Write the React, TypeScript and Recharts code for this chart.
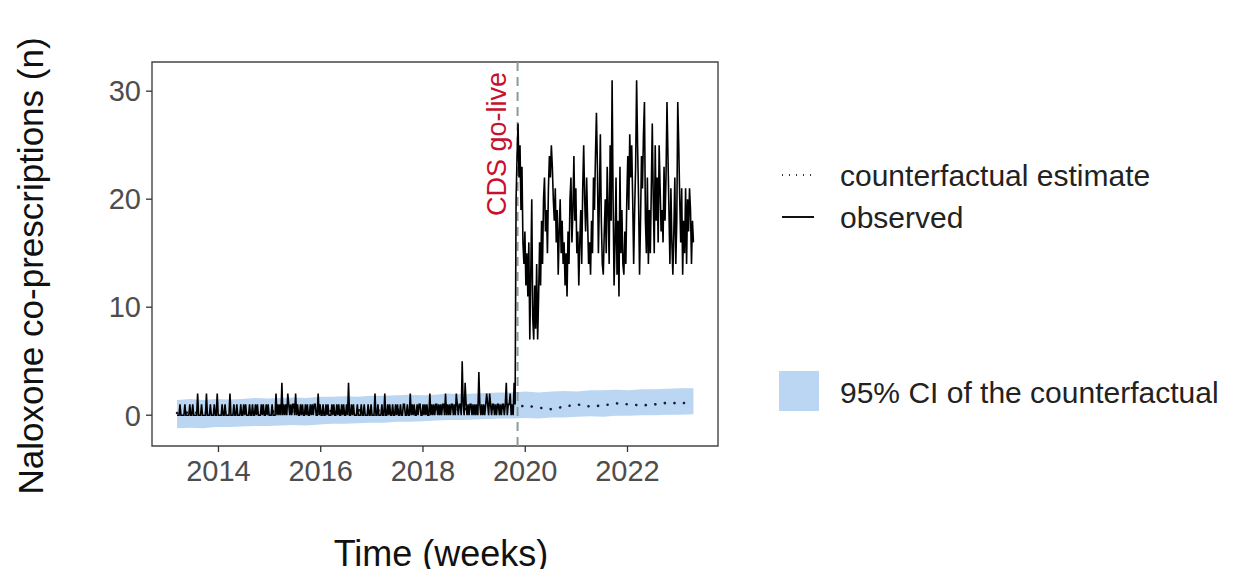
import {
  ComposedChart,
  Line,
  Area,
  XAxis,
  YAxis,
  ReferenceLine,
  ReferenceArea,
} from "recharts";

const FONT = "'Liberation Sans', Arial, Helvetica, sans-serif";

// weekly observed counts, first week ~ March 2013
const OBS_START = 2013.19;
const WEEKS_PER_YEAR = 52.18;

const pre2013 = [0,0,0,1,0,0,0,0,1,0,0,0,0,1,0,0,1,0,0,0,0,2,0,0,0,1,0,0,0,0,2,0,0,0,1,0,0,0,1,0,0,2,0,0,0,0,1,0,0,1,0,0];
const pre2014 = [0,0,2,0,0,0,1,0,0,1,0,0,0,1,0,0,1,0,1,0,0,0,1,0,0,1,0,0,1,0,1,0,0,0,1,0,1,0,0,1,0,1,0,0,0,1,0,0,0,2,0,1];
const pre2015 = [0,1,0,3,0,1,0,1,0,2,1,0,1,0,1,1,0,2,0,1,0,0,1,0,1,0,0,1,0,1,0,0,1,0,1,0,1,1,0,0,2,0,1,0,0,1,0,0,1,0,1,0];
const pre2016 = [0,0,1,0,1,0,0,1,0,1,0,0,1,0,1,0,0,1,0,3,0,0,1,0,1,0,0,0,1,0,0,0,1,0,0,1,0,0,0,1,0,0,1,0,0,0,2,0,0,1,0,0];
const pre2017 = [0,1,0,0,2,0,0,1,0,1,0,0,1,0,0,1,0,1,0,0,1,0,0,1,1,0,0,1,0,0,2,0,1,0,1,0,0,1,0,1,1,0,0,1,0,1,0,1,0,0,2,0];
const pre2018 = [1,0,1,0,1,1,0,1,0,1,0,1,1,0,2,0,1,0,1,0,1,1,0,1,0,2,1,0,1,1,0,5,1,0,3,1,0,1,0,1,1,0,1,0,1,0,1,0,4,1,0,1];
const pre2019 = [0,1,0,1,2,1,0,2,1,0,1,1,0,1,0,1,1,0,1,0,1,1,0,1,3,0,1,1,2,0,1,0,3,1];

const post = [
  20,24,27,22,25,19,23,16,14,17,
  12,15,11,16,7,13,20,9,7,12,
  8,14,7,11,16,12,18,14,20,22,
  17,19,15,21,24,22,25,23,20,18,
  21,16,19,13,17,20,15,18,14,16,
  12,15,11,17,14,20,22,16,19,24,
  18,21,15,17,12,16,19,14,21,25,
  20,17,22,18,14,16,13,18,15,22,
  19,24,28,23,15,20,26,18,14,13,
  17,20,15,23,19,14,25,18,31,20,
  12,16,22,13,18,11,23,15,19,14,
  13,17,14,20,24,19,26,22,25,20,
  14,19,23,31,25,20,13,18,24,21,
  26,29,18,15,22,14,19,15,21,27,
  20,15,25,18,22,16,25,21,17,19,
  16,23,18,22,29,24,19,14,21,16,
  13,17,22,14,18,29,25,20,16,21,
  13,18,15,21,14,20,17,21,19,14,18,16,
];

// quarterly counterfactual estimate and its 95% CI
const CF_START = 2013.19;
const CF_STEP = 0.2525;
const cfEstimate = [0.2,0.25,0.2,0.3,0.25,0.3,0.3,0.35,0.3,0.35,0.4,0.35,0.4,0.4,0.45,0.4,0.45,0.5,0.45,0.5,0.55,0.5,0.55,0.6,0.6,0.65,0.7,0.9,0.7,0.55,0.8,1.0,0.8,0.9,1.1,1.0,0.9,1.0,1.15,1.1,1.2];
const ciLow = [-1.2,-1.15,-1.2,-1.1,-1.1,-1.05,-1.0,-1.0,-0.95,-0.9,-0.95,-0.85,-0.8,-0.8,-0.75,-0.7,-0.7,-0.6,-0.6,-0.55,-0.5,-0.45,-0.45,-0.4,-0.35,-0.3,-0.3,-0.25,-0.3,-0.2,-0.2,-0.15,-0.1,-0.15,-0.05,-0.05,0.0,0.0,0.05,0.05,0.1];
const ciHigh = [1.4,1.5,1.4,1.5,1.45,1.5,1.6,1.55,1.6,1.65,1.6,1.7,1.7,1.75,1.7,1.8,1.8,1.85,1.9,1.85,1.9,2.0,1.95,2.0,2.05,2.1,2.1,2.2,2.1,2.2,2.25,2.2,2.3,2.3,2.35,2.3,2.4,2.4,2.45,2.5,2.5];

const GO_LIVE = 2019.85;
const xTicks = [2014, 2016, 2018, 2020, 2022];
const yTicks = [0, 10, 20, 30];
const X_DOMAIN = [2012.7, 2023.77];
const Y_DOMAIN = [-2.85, 32.7];

const observed = [...pre2013, ...pre2014, ...pre2015, ...pre2016, ...pre2017, ...pre2018, ...pre2019, ...post].map(
  (v, i) => ({ x: OBS_START + i / WEEKS_PER_YEAR, obs: v })
);
const counterfactual = cfEstimate.map((v, i) => ({
  x: CF_START + i * CF_STEP,
  cf: v,
  ci: [ciLow[i], ciHigh[i]],
}));

const GoLiveLabel = (props: any) => {
  const vb = props.viewBox || {};
  const x = vb.x - 21;
  const y = 144;
  return (
    <text
      x={x}
      y={y}
      transform={`rotate(-90 ${x} ${y})`}
      textAnchor="middle"
      dominantBaseline="central"
      fill="#c8102e"
      fontSize={27}
      fontFamily={FONT}
    >
      CDS go-live
    </text>
  );
};

export default function App() {
  return (
    <div style={{ position: "relative", width: 1233, height: 577, background: "#fff", margin: -8 }}>
      <ComposedChart
        width={1233}
        height={577}
        margin={{ top: 62, right: 515, bottom: 91, left: 92 }}
        style={{ position: "absolute", left: 0, top: 0 }}
      >
        <XAxis
          type="number"
          dataKey="x"
          domain={X_DOMAIN}
          ticks={xTicks}
          allowDataOverflow
          axisLine={false}
          tickSize={6}
          tickMargin={8}
          height={40}
          tickLine={{ stroke: "#333", strokeWidth: 1.3 }}
          tick={{ fill: "#4d4d4d", fontSize: 29, fontFamily: FONT }}
        />
        <YAxis
          type="number"
          domain={Y_DOMAIN}
          ticks={yTicks}
          allowDataOverflow
          axisLine={false}
          width={60}
          tickSize={6}
          tickMargin={5}
          tickLine={{ stroke: "#333", strokeWidth: 1.3 }}
          tick={{ fill: "#4d4d4d", fontSize: 29, fontFamily: FONT }}
        />
        <Area
          data={counterfactual}
          dataKey="ci"
          type="linear"
          stroke="none"
          fill="#bad6f3"
          fillOpacity={1}
          isAnimationActive={false}
        />
        <ReferenceLine
          x={GO_LIVE}
          stroke="#8a9c9a"
          strokeWidth={2}
          strokeDasharray="9 6"
          label={<GoLiveLabel />}
        />
        <Line
          data={counterfactual}
          dataKey="cf"
          type="linear"
          stroke="#1b1b3a"
          strokeWidth={2.6}
          strokeLinecap="round"
          strokeDasharray="0.1 9.5"
          dot={false}
          isAnimationActive={false}
        />
        <Line
          data={observed}
          dataKey="obs"
          type="linear"
          stroke="#000"
          strokeWidth={1.6}
          dot={false}
          isAnimationActive={false}
        />
        <ReferenceArea
          x1={X_DOMAIN[0]}
          x2={X_DOMAIN[1]}
          y1={Y_DOMAIN[0]}
          y2={Y_DOMAIN[1]}
          fill="none"
          stroke="#444"
          strokeWidth={1.4}
        />
      </ComposedChart>
      <svg
        width={1233}
        height={577}
        style={{ position: "absolute", left: 0, top: 0, pointerEvents: "none" }}
      >
        <text
          x={30}
          y={266}
          transform="rotate(-90 30 266)"
          textAnchor="middle"
          dominantBaseline="central"
          fontSize={35}
          fontFamily={FONT}
          fill="#111"
        >
          Naloxone co-prescriptions (n)
        </text>
        <text x={441} y={566} textAnchor="middle" fontSize={36} fontFamily={FONT} fill="#111">
          Time (weeks)
        </text>
        {/* legend */}
        <line x1={782} y1={175} x2={814} y2={175} stroke="#333" strokeWidth={2} strokeDasharray="1 6" />
        <text x={840} y={186} fontSize={30} fontFamily={FONT} fill="#222">
          counterfactual estimate
        </text>
        <line x1={782} y1={217} x2={814} y2={217} stroke="#111" strokeWidth={2} />
        <text x={840} y={228} fontSize={30} fontFamily={FONT} fill="#222">
          observed
        </text>
        <rect x={779} y={371} width={40} height={40} fill="#bad6f3" />
        <text x={840} y={403} fontSize={30} fontFamily={FONT} fill="#222">
          95% CI of the counterfactual
        </text>
      </svg>
    </div>
  );
}
